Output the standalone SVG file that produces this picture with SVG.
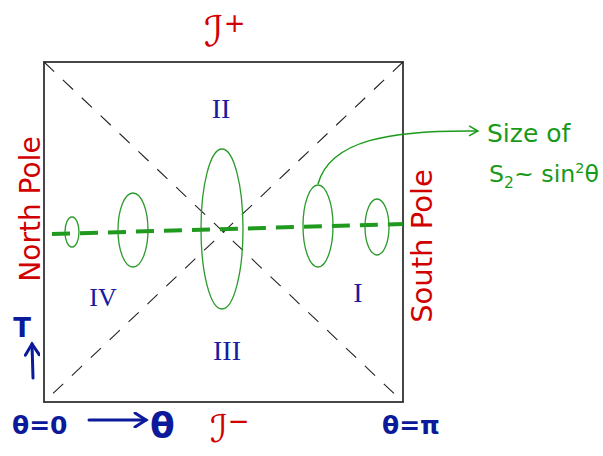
<svg xmlns="http://www.w3.org/2000/svg" width="603" height="456" viewBox="0 0 603 456">
<style>
.red{fill:#d00000;font-family:"DejaVu Sans",sans-serif}
.blue{fill:#1a1aa0;font-family:"Liberation Serif",serif}
.navy{fill:#0a1a9a;font-family:"DejaVu Sans",sans-serif;font-weight:bold}
.green{fill:#1a9a1a;font-family:"DejaVu Sans",sans-serif}
.ell{fill:none;stroke:#2a9a2a;stroke-width:1.3}
.diag{stroke:#222;stroke-width:1.1;stroke-dasharray:14 12;fill:none}
</style>
<defs>
<marker id="ga" markerWidth="12" markerHeight="12" refX="10" refY="6" orient="auto" markerUnits="userSpaceOnUse">
<path d="M1,1 L10,6 L1,11" fill="none" stroke="#1a9a1a" stroke-width="1.5"/>
</marker>
<marker id="ba" markerWidth="16" markerHeight="16" refX="13" refY="8" orient="auto" markerUnits="userSpaceOnUse">
<path d="M2,1 L13,8 L2,15" fill="none" stroke="#0a1a9a" stroke-width="3" stroke-linecap="round"/>
</marker>
</defs>
<rect width="603" height="456" fill="#fff"/>
<g id="square">
<rect x="44" y="62" width="359" height="340" fill="none" stroke="#333" stroke-width="1.8"/>
</g>
<g id="connectors">
<line class="diag" x1="44" y1="62" x2="403" y2="402"/>
<line class="diag" x1="403" y1="62" x2="44" y2="402"/>
<line x1="52" y1="234" x2="403" y2="224" stroke="#1f9a1f" stroke-width="4" stroke-dasharray="18 10"/>
<path d="M318,184 C330,140 390,130 478,131" fill="none" stroke="#1a9a1a" stroke-width="1.5" marker-end="url(#ga)"/>
<line x1="33" y1="378" x2="32" y2="344" stroke="#0a1a9a" stroke-width="3" stroke-linecap="round" marker-end="url(#ba)"/>
<line x1="89" y1="420" x2="146" y2="420" stroke="#0a1a9a" stroke-width="3" stroke-linecap="round" marker-end="url(#ba)"/>
</g>
<g id="spheres">
<ellipse class="ell" cx="72" cy="232" rx="7" ry="15"/>
<ellipse class="ell" cx="133" cy="230" rx="15" ry="37"/>
<ellipse class="ell" cx="222" cy="229" rx="21" ry="80"/>
<ellipse class="ell" cx="318" cy="226" rx="15" ry="41"/>
<ellipse class="ell" cx="377" cy="227" rx="12" ry="28"/>
</g>
<g id="scri-plus"><text class="red" x="204" y="46" font-size="42">ℐ<tspan font-size="26" dy="-14">+</tspan></text></g>
<g id="scri-minus"><text class="red" x="210" y="442" font-size="38">ℐ<tspan font-size="26" dy="-12">−</tspan></text></g>
<g id="north-pole"><text class="red" x="0" y="0" font-size="28" text-anchor="middle" transform="translate(40,209) rotate(-90)">North Pole</text></g>
<g id="south-pole"><text class="red" x="0" y="0" font-size="29" text-anchor="middle" transform="translate(432,246) rotate(-90)">South Pole</text></g>
<g id="region-II"><text class="blue" x="221" y="118" font-size="28" text-anchor="middle">II</text></g>
<g id="region-IV"><text class="blue" x="103" y="306" font-size="26" text-anchor="middle">IV</text></g>
<g id="region-I"><text class="blue" x="358" y="302" font-size="28" text-anchor="middle">I</text></g>
<g id="region-III"><text class="blue" x="227" y="360" font-size="28" text-anchor="middle">III</text></g>
<g id="size-label">
<text class="green" x="487" y="142" font-size="25">Size of</text>
<text class="green" x="489" y="182" font-size="23" textLength="110" lengthAdjust="spacingAndGlyphs">S<tspan font-size="15" dy="6">2</tspan><tspan dy="-6">~ sin</tspan><tspan font-size="14" dy="-9">2</tspan><tspan dy="9">θ</tspan></text>
</g>
<g id="T-axis"><text class="navy" x="22" y="337" font-size="26" text-anchor="middle">T</text></g>
<g id="theta0"><text class="navy" x="12" y="434" font-size="25">θ=0</text></g>
<g id="theta-axis"><text class="navy" x="150" y="438" font-size="36">θ</text></g>
<g id="thetapi"><text class="navy" x="382" y="434" font-size="25">θ=π</text></g>
</svg>
